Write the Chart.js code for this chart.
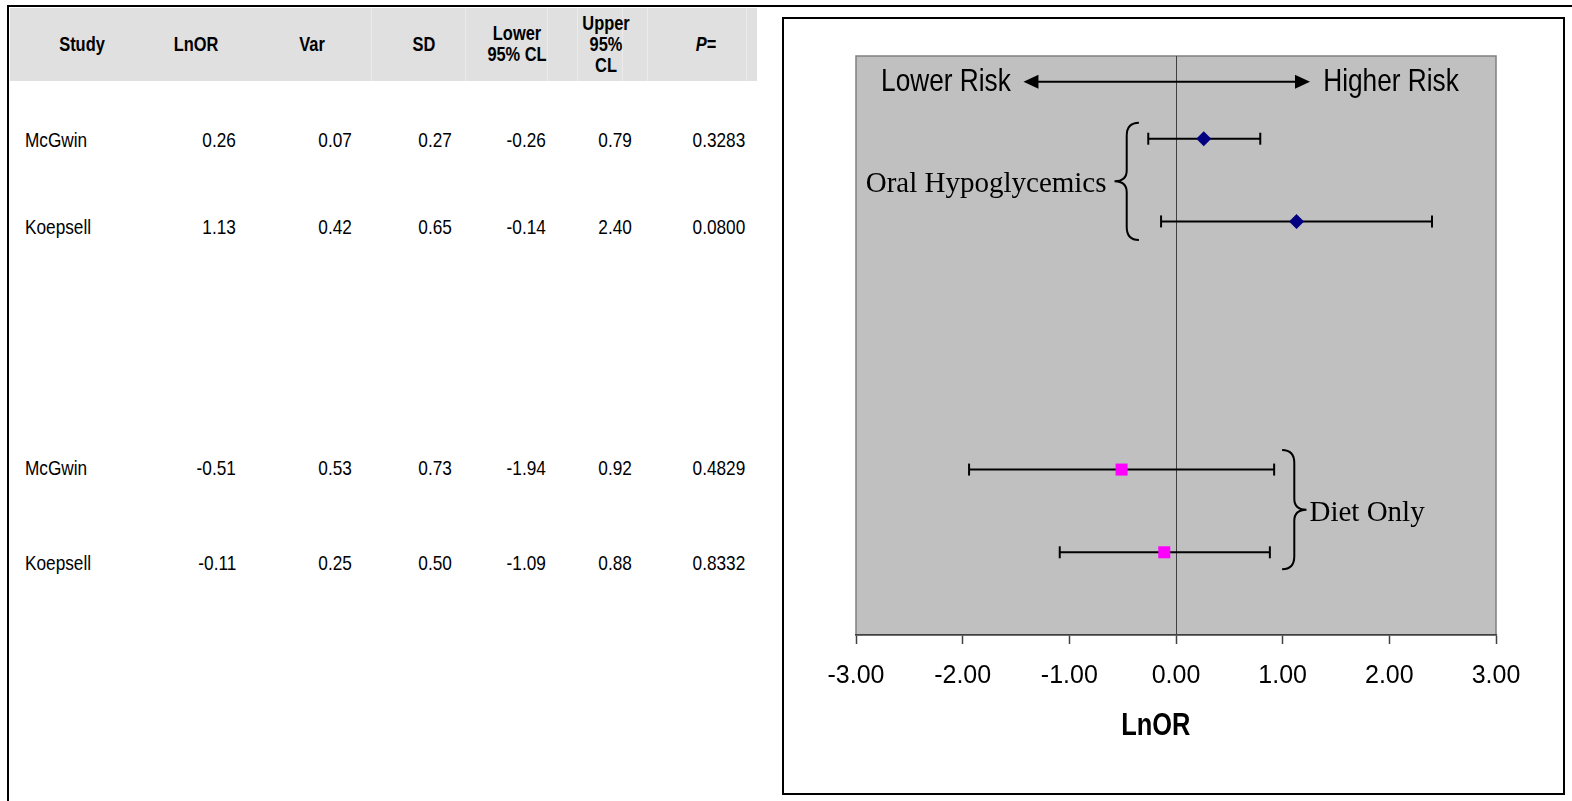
<!DOCTYPE html>
<html>
<head>
<meta charset="utf-8">
<script src="https://cdn.jsdelivr.net/npm/chart.js@4.4.1/dist/chart.umd.min.js"></script>
<style>
html,body{margin:0;padding:0;background:#fff;}
body{width:1572px;height:801px;overflow:hidden;position:relative;}
#frameTop{position:absolute;left:7px;top:5px;width:1565px;height:2px;background:#000;}
#frameLeft{position:absolute;left:7px;top:5px;width:2px;height:796px;background:#000;}
#hdr{position:absolute;left:10px;top:8px;width:747px;height:73px;background:#e0e0e0;}
.sep{position:absolute;top:8px;width:1px;height:73px;background:#ebebeb;}
.t{position:absolute;white-space:nowrap;color:#000;font-family:"Liberation Sans Narrow","Arial Narrow","Liberation Sans",sans-serif;}
.h{font-weight:bold;font-size:20px;line-height:21px;text-align:center;}
.d{font-size:21px;line-height:24px;}
#box{position:absolute;left:782px;top:17px;width:779px;height:774px;border:2px solid #000;}
#box canvas{position:absolute;left:0;top:0;}
</style>
</head>
<body>
<div id="frameTop"></div>
<div id="frameLeft"></div>
<div id="hdr"></div>
<div id="table"></div>
<div id="box"><canvas id="c" width="779" height="774"></canvas></div>
<script>
// ---------- data ----------
const studies   = ['McGwin', 'Koepsell', 'McGwin', 'Koepsell'];
const groupOf   = [0, 0, 1, 1];
const groupNames = ['Oral Hypoglycemics', 'Diet Only'];
const lnOR      = [0.26, 1.13, -0.51, -0.11];
const variance  = [0.07, 0.42, 0.53, 0.25];
const sdev      = [0.27, 0.65, 0.73, 0.50];
const lowerCL   = [-0.26, -0.14, -1.94, -1.09];
const upperCL   = [0.79, 2.40, 0.92, 0.88];
const pValue    = [0.3283, 0.0800, 0.4829, 0.8332];
const rowPos    = [6, 5, 2, 1];
const xTicks    = [-3, -2, -1, 0, 1, 2, 3];
const headerLines = [['Study'], ['LnOR'], ['Var'], ['SD'], ['Lower', '95% CL'], ['Upper', '95%', 'CL'], ['P=']];
const xTitle = 'LnOR';
const riskLabels = ['Lower Risk', 'Higher Risk'];

// ---------- font detection ----------
function hasFont(name){
  const c = document.createElement('canvas').getContext('2d');
  const t = 'McGwin Lower Risk 0123456789';
  c.font = '40px monospace'; const a = c.measureText(t).width;
  c.font = '40px "' + name + '", monospace'; const b = c.measureText(t).width;
  return Math.abs(a - b) > 0.5;
}
const NARROW = hasFont('Liberation Sans Narrow');

// ---------- table ----------
const tbl = document.getElementById('table');
[371, 465, 547, 577, 622, 647, 746].forEach(x => {
  const s = document.createElement('div'); s.className = 'sep'; s.style.left = x + 'px'; tbl.appendChild(s);
});
const hdrCenters = [82, 196, 312, 424, 517, 606, 706];
function addText(cls, html, css, mode){
  const e = document.createElement('div');
  e.className = 't ' + cls;
  e.innerHTML = html;
  Object.assign(e.style, css);
  let tr = '';
  if (mode === 'c') { tr = 'translate(-50%,-50%)'; e.style.transformOrigin = 'center center'; }
  else if (mode === 'l') { tr = 'translateY(-50%)'; e.style.transformOrigin = 'left center'; }
  else { tr = 'translateY(-50%)'; e.style.transformOrigin = 'right center'; }
  if (!NARROW) { e.style.fontFamily = '"Liberation Sans",sans-serif'; tr += ' scaleX(0.82)'; }
  e.style.transform = tr;
  tbl.appendChild(e);
}
headerLines.forEach((lines, i) => {
  let html = lines.join('<br>');
  if (lines[0] === 'P=') html = '<i>P</i>=';
  addText('h', html, {left: hdrCenters[i] + 'px', top: '44px'}, 'c');
});
const rowY = [140, 227, 468, 563];
const rightEdges = [236, 352, 452, 546, 632, 745];
studies.forEach((s, i) => {
  addText('d', s, {left: '25px', top: rowY[i] + 'px'}, 'l');
  const vals = [lnOR[i].toFixed(2), variance[i].toFixed(2), sdev[i].toFixed(2),
                lowerCL[i].toFixed(2), upperCL[i].toFixed(2), pValue[i].toFixed(4)];
  vals.forEach((v, j) => {
    addText('d', v, {right: (1572 - rightEdges[j]) + 'px', top: rowY[i] + 'px', textAlign: 'right'}, 'r');
  });
});

// ---------- chart ----------
function narrowText(ctx, txt, x, y, size, bold, align){
  ctx.save();
  ctx.textAlign = align; ctx.textBaseline = 'middle'; ctx.fillStyle = '#000';
  if (NARROW) {
    ctx.font = (bold ? 'bold ' : '') + size + 'px "Liberation Sans Narrow"';
    ctx.fillText(txt, x, y);
  } else {
    ctx.font = (bold ? 'bold ' : '') + size + 'px "Liberation Sans", Arial, sans-serif';
    ctx.translate(x, y); ctx.scale(0.82, 1); ctx.fillText(txt, 0, 0);
  }
  ctx.restore();
}
function brace(ctx, xv, y0, y1, dir){
  // dir = -1: tip points left, dir = +1: tip points right
  const ym = (y0 + y1) / 2;
  const xt = xv + dir * 12.2, xe = xv - dir * 12.2;
  ctx.beginPath();
  ctx.moveTo(xe, y0);
  ctx.quadraticCurveTo(xv, y0, xv, y0 + 13);
  ctx.lineTo(xv, ym - 11);
  ctx.quadraticCurveTo(xv, ym, xt, ym);
  ctx.quadraticCurveTo(xv, ym, xv, ym + 11);
  ctx.lineTo(xv, y1 - 13);
  ctx.quadraticCurveTo(xv, y1, xe, y1);
  ctx.stroke();
}
function arrowHead(ctx, xTip, y, dir){
  ctx.beginPath();
  ctx.moveTo(xTip, y);
  ctx.lineTo(xTip - dir * 15, y - 7);
  ctx.lineTo(xTip - dir * 15, y + 7);
  ctx.closePath();
  ctx.fill();
}
const notes = {
  arrowY: 6.69, lowerX: -2.765, arrowL: -1.43, arrowR: 1.256, higherX: 1.38,
  titleX: -0.19,
  braces: [{x: -0.462, top: 6.194, bot: 4.775, dir: -1}, {x: 1.109, top: 2.237, bot: 0.794, dir: 1}]
};
const deco = {
  id: 'deco',
  beforeDraw(chart){
    const {ctx, chartArea: a} = chart;
    ctx.save();
    ctx.fillStyle = '#c0c0c0';
    ctx.fillRect(a.left, a.top, a.right - a.left, a.bottom - a.top);
    ctx.strokeStyle = '#808080'; ctx.lineWidth = 1.5;
    ctx.strokeRect(a.left, a.top, a.right - a.left, a.bottom - a.top);
    ctx.restore();
  },
  afterDraw(chart){
    const ctx = chart.ctx, xs = chart.scales.x, ys = chart.scales.y;
    const X = v => xs.getPixelForValue(v), Y = v => ys.getPixelForValue(v);
    ctx.save();
    // risk arrow
    const ay = Y(notes.arrowY);
    ctx.strokeStyle = '#000'; ctx.fillStyle = '#000'; ctx.lineWidth = 2;
    ctx.beginPath(); ctx.moveTo(X(notes.arrowL) + 8, ay); ctx.lineTo(X(notes.arrowR) - 8, ay); ctx.stroke();
    arrowHead(ctx, X(notes.arrowL), ay, -1);
    arrowHead(ctx, X(notes.arrowR), ay, 1);
    narrowText(ctx, riskLabels[0], X(notes.lowerX), ay + 0.5, 32, false, 'left');
    narrowText(ctx, riskLabels[1], X(notes.higherX), ay + 0.5, 32, false, 'left');
    // group braces and labels
    ctx.lineWidth = 2; ctx.strokeStyle = '#000';
    notes.braces.forEach((b, gi) => {
      const xv = X(b.x), y0 = Y(b.top), y1 = Y(b.bot);
      brace(ctx, xv, y0, y1, b.dir);
      const ym = (y0 + y1) / 2;
      ctx.font = '29px "Liberation Serif", "Times New Roman", serif';
      ctx.textBaseline = 'alphabetic'; ctx.fillStyle = '#000';
      if (b.dir < 0) { ctx.textAlign = 'right'; ctx.fillText(groupNames[gi], xv - 12.2 - 8, ym + 11); }
      else { ctx.textAlign = 'left'; ctx.fillText(groupNames[gi], xv + 12.2 + 3, ym + 11); }
    });
    // axis title
    narrowText(ctx, xTitle, X(notes.titleX), 707, 31, true, 'center');
    ctx.restore();
  }
};

const ciSets = studies.map((s, i) => ({
  type: 'line',
  label: s + ' CI',
  data: [{x: lowerCL[i], y: rowPos[i]}, {x: upperCL[i], y: rowPos[i]}],
  borderColor: '#000', borderWidth: 2, fill: false, tension: 0,
  pointStyle: 'line', pointRotation: 90, pointRadius: 6, pointHoverRadius: 6,
  pointBorderWidth: 2, pointBorderColor: '#000', pointBackgroundColor: '#000',
  order: 2
}));
const markerStyles = [
  {pointStyle: 'rectRot', radius: 7.5, color: '#000080'},
  {pointStyle: 'rect', radius: 8.5, color: '#ff00ff'}
];
const markerSets = groupNames.map((g, gi) => ({
  type: 'scatter',
  label: g,
  data: lnOR.map((v, i) => groupOf[i] === gi ? {x: v, y: rowPos[i]} : null).filter(p => p),
  pointStyle: markerStyles[gi].pointStyle,
  pointRadius: markerStyles[gi].radius, pointHoverRadius: markerStyles[gi].radius,
  backgroundColor: markerStyles[gi].color, borderColor: markerStyles[gi].color, borderWidth: 0,
  order: 0
}));

new Chart(document.getElementById('c'), {
  type: 'scatter',
  data: {datasets: [...markerSets, ...ciSets]},
  options: {
    responsive: false, animation: false, devicePixelRatio: 1,
    layout: {padding: {left: 72, right: 67, top: 37, bottom: 0}},
    plugins: {legend: {display: false}, tooltip: {enabled: false}},
    events: [],
    scales: {
      x: {
        type: 'linear', min: -3, max: 3,
        afterBuildTicks: s => { s.ticks = xTicks.map(v => ({value: v})); },
        afterFit: s => { s.height = 158; },
        ticks: {
          callback: v => Number(v).toFixed(2), color: '#000', padding: 17,
          maxRotation: 0, autoSkip: false,
          font: {family: '"Liberation Sans", Arial, sans-serif', size: 25}
        },
        grid: {
          drawOnChartArea: true, drawTicks: true, tickLength: 9, lineWidth: 1,
          color: c => (c.tick && c.tick.value === 0) ? '#404040' : 'rgba(0,0,0,0)',
          tickColor: '#404040', tickWidth: 1.5
        },
        border: {display: true, color: '#404040', width: 1.5}
      },
      y: {type: 'linear', min: 0, max: 7, display: false}
    }
  },
  plugins: [deco]
});
</script>
</body>
</html>
